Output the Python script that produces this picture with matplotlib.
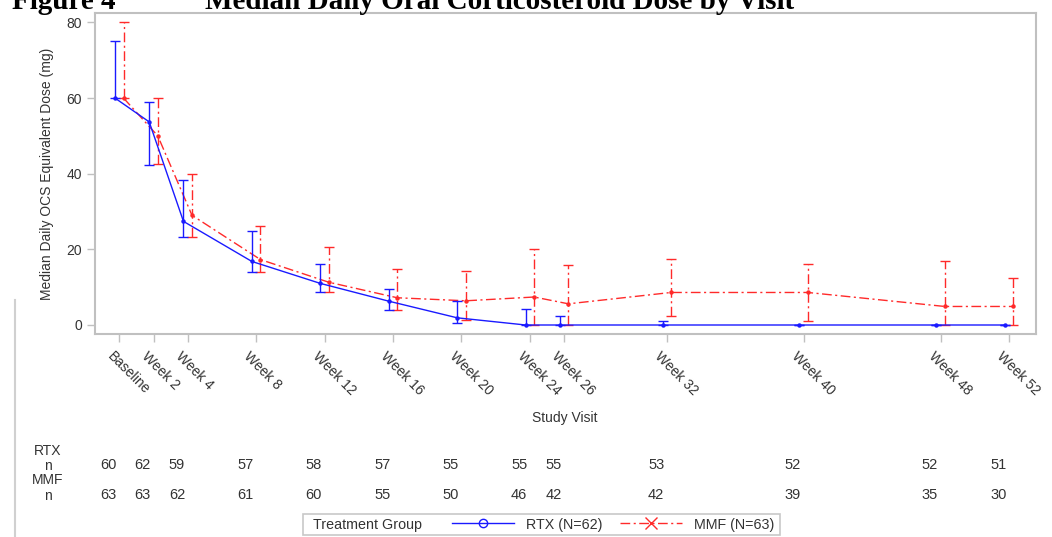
import matplotlib
matplotlib.use('Agg')
import matplotlib.pyplot as plt
import matplotlib.transforms as mtransforms
from matplotlib.lines import Line2D
from matplotlib.patches import Rectangle

plt.rcParams['font.family'] = ['Liberation Sans', 'DejaVu Sans']

# study visits (week number used as x position)
visits = ['Baseline', 'Week 2', 'Week 4', 'Week 8', 'Week 12', 'Week 16', 'Week 20',
          'Week 24', 'Week 26', 'Week 32', 'Week 40', 'Week 48', 'Week 52']
weeks = [0, 2, 4, 8, 12, 16, 20, 24, 26, 32, 40, 48, 52]

# RTX median and IQR
rtx_med = [60, 53.7, 27.4, 16.8, 11.0, 6.3, 1.9, 0, 0, 0, 0, 0, 0]
rtx_q1 = [60, 42.4, 23.2, 13.9, 8.8, 4.0, 0.5, 0, 0, 0, 0, 0, 0]
rtx_q3 = [75, 58.9, 38.4, 24.9, 16.2, 9.4, 6.4, 4.1, 2.3, 1.0, 0, 0, 0]

# MMF median and IQR
mmf_med = [60, 50.0, 29.0, 17.3, 11.3, 7.2, 6.4, 7.4, 5.6, 8.6, 8.6, 4.9, 4.9]
mmf_q1 = [60, 42.5, 23.2, 13.9, 8.8, 4.0, 1.3, 0, 0, 2.3, 1.1, 0, 0]
mmf_q3 = [80, 60.0, 40.0, 26.1, 20.7, 14.7, 14.4, 20.0, 15.9, 17.5, 16.2, 17.0, 12.3]

# number of subjects
rtx_n = [60, 62, 59, 57, 58, 57, 55, 55, 55, 53, 52, 52, 51]
mmf_n = [63, 63, 62, 61, 60, 55, 50, 46, 42, 42, 39, 35, 30]

W, H = 1052, 537
fig = plt.figure(figsize=(W / 100, H / 100), dpi=100)
ax = fig.add_axes([95 / W, 1 - 334 / H, (1036 - 95) / W, (334 - 13) / H])

txt = '#333333'
grid_c = '#c0c0c0'
blue = '#1a1aff'
red = '#ff2a2a'
dashdot = (0, (7, 2.5, 1.5, 2.5))
fs = 10

xb = [w - 0.25 for w in weeks]
xr = [w + 0.25 for w in weeks]

ax.errorbar(xb, rtx_med,
            yerr=[[m - l for m, l in zip(rtx_med, rtx_q1)], [u - m for m, u in zip(rtx_med, rtx_q3)]],
            color=blue, lw=1.0, ls='-', marker='o', ms=2.2, capsize=3.5, elinewidth=1.0,
            capthick=1.0, zorder=3)
eb = ax.errorbar(xr, mmf_med,
                 yerr=[[m - l for m, l in zip(mmf_med, mmf_q1)], [u - m for m, u in zip(mmf_med, mmf_q3)]],
                 color=red, lw=1.0, ls=dashdot, marker='o', ms=2.2, capsize=3.5,
                 elinewidth=1.0, capthick=1.0, zorder=2)
for lc in eb[2]:
    lc.set_linestyle(dashdot)

ax.set_xlim(-1.42, 53.58)
ax.set_ylim(-2.38, 82.5)
ax.set_xticks(weeks)
ax.set_xticklabels(visits, rotation=-45, ha='left', va='top', rotation_mode='anchor')
ax.set_yticks([0, 20, 40, 60, 80])
ax.tick_params(colors=grid_c, labelcolor=txt, labelsize=fs, length=6, width=1)
ax.tick_params(axis='x', pad=5)
offset = mtransforms.ScaledTranslation(-5 / 100, 0, fig.dpi_scale_trans)
for lab in ax.get_xticklabels():
    lab.set_transform(lab.get_transform() + offset)
for s in ax.spines.values():
    s.set_color(grid_c)
    s.set_linewidth(1.5)

ax.set_ylabel('Median Daily OCS Equivalent Dose (mg)', fontsize=fs, color=txt, labelpad=9)
fig.text(565 / W, 1 - 418 / H, 'Study Visit', fontsize=fs, color=txt, ha='center', va='center')

# title (partly cut at the top, as in the source)
fig.text(12 / W, 1 - 9 / H, 'Figure 4', fontsize=21, fontweight='bold',
         family='Liberation Serif', va='baseline')
fig.text(205 / W, 1 - 9 / H, 'Median Daily Oral Corticosteroid Dose by Visit', fontsize=21,
         fontweight='bold', family='Liberation Serif', va='baseline')

# left rule
fig.add_artist(Line2D([15 / W, 15 / W], [0, 1 - 300 / H], color='#d0d0d0', lw=1.5))

# subject count table
tr = mtransforms.blended_transform_factory(ax.transData, fig.transFigure)
for lab, yy in [('RTX', 451), ('n', 466), ('MMF', 480), ('n', 496)]:
    fig.text(48 / W, 1 - yy / H, lab, fontsize=fs, color=txt, ha='center', va='center')
for w, a, b in zip(weeks, rtx_n, mmf_n):
    ax.text(w - 0.15, 1 - 465 / H, str(a), transform=tr, fontsize=10.5, color=txt,
            ha='right', va='center')
    ax.text(w - 0.15, 1 - 495 / H, str(b), transform=tr, fontsize=10.5, color=txt,
            ha='right', va='center')

# legend
fig.add_artist(Rectangle((303 / W, 1 - 535 / H), (780 - 303) / W, 21 / H,
                         transform=fig.transFigure, fill=False, ec='#c8c8c8', lw=1.2))
fig.text(313 / W, 1 - 524.5 / H, 'Treatment Group', fontsize=10.3, color=txt, va='center')
handles = [Line2D([], [], color=blue, lw=1.0, marker='o', mfc='none', ms=6),
           Line2D([], [], color=red, lw=1.0, ls=dashdot, marker='x', ms=8)]
fig.legend(handles, ['RTX (N=62)', 'MMF (N=63)'], ncol=2, frameon=False, fontsize=10.3,
           labelcolor=txt, loc='center left', bbox_to_anchor=(452 / W, 1 - 524.5 / H),
           handlelength=4.3, columnspacing=1.2, handletextpad=0.9, borderpad=0, borderaxespad=0)

fig.savefig('out.png', dpi=100)
